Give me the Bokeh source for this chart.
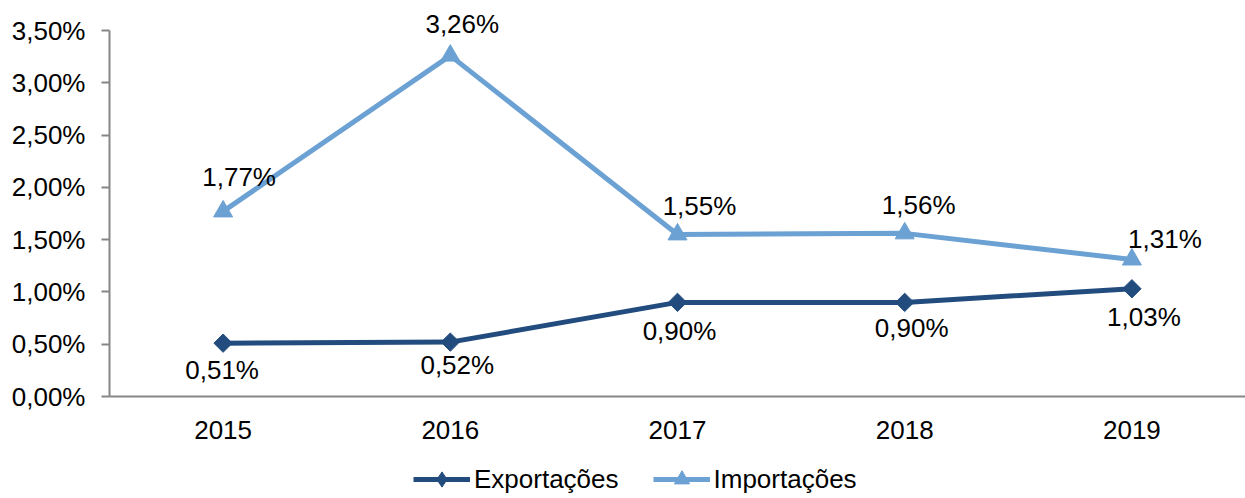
import math
from bokeh.plotting import figure
from bokeh.layouts import column
from bokeh.models import ColumnDataSource, FactorRange, Range1d, CustomJSTickFormatter, LabelSet, Legend, LegendItem, FixedTicker
from bokeh.core.properties import value
from bokeh.embed import file_html
from bokeh.resources import INLINE

years = ["2015", "2016", "2017", "2018", "2019"]
exportacoes = [0.51, 0.52, 0.90, 0.90, 1.03]
importacoes = [1.77, 3.26, 1.55, 1.56, 1.31]
y_ticks = [0.0, 0.5, 1.0, 1.5, 2.0, 2.5, 3.0, 3.5]

# data-label offsets (screen px) as placed in the original chart
exp_label_dx = [-1, 7, 2, 7, 12]
exp_label_dy = [-27, -23, -29, -26, -28]
imp_label_dx = [16, 12, 22, 14, 33]
imp_label_dy = [34, 32, 28, 28, 21]

DARK = "#234C7E"
LIGHT = "#6BA1D3"
FONT = "Liberation Sans"
FS = "26px"

def fmt(v):
    return f"{v:.2f}".replace(".", ",") + "%"

src_e = ColumnDataSource(dict(x=years, y=exportacoes, lab=[fmt(v) for v in exportacoes],
                              dx=exp_label_dx, dy=exp_label_dy))
src_i = ColumnDataSource(dict(x=years, y=importacoes, lab=[fmt(v) for v in importacoes],
                              dx=imp_label_dx, dy=imp_label_dy))

# frame from y=0 to y=396 px; 3.5 at 30 px -> extra above 3.5
y_top = 3.5 + 3.5 * 30 / 366

p = figure(width=1245, height=450, x_range=FactorRange(*years, range_padding=0),
           y_range=Range1d(0, y_top), output_backend="svg", toolbar_location=None,
           min_border_left=109, min_border_right=0, min_border_top=0, min_border_bottom=54)
p.xgrid.visible = False
p.ygrid.visible = False
p.outline_line_color = None

p.line("x", "y", source=src_e, line_color=DARK, line_width=5)
p.scatter("x", "y", source=src_e, marker="square", angle=math.pi / 4, size=13,
          fill_color=DARK, line_color=DARK)
p.line("x", "y", source=src_i, line_color=LIGHT, line_width=5)
p.scatter("x", "y", source=src_i, marker="triangle", size=19, fill_color=LIGHT, line_color=LIGHT)

p.add_layout(LabelSet(x="x", y="y", text="lab", source=src_e, x_offset="dx", y_offset="dy",
                      text_align="center", text_baseline="middle", text_font=value(FONT),
                      text_font_size=value(FS), text_color="black"))
p.add_layout(LabelSet(x="x", y="y", text="lab", source=src_i, x_offset="dx", y_offset="dy",
                      text_align="center", text_baseline="middle", text_font=value(FONT),
                      text_font_size=value(FS), text_color="black"))

ya = p.yaxis[0]
ya.bounds = (0, 3.5)
ya.ticker = FixedTicker(ticks=y_ticks)
ya.formatter = CustomJSTickFormatter(code="return tick.toFixed(2).replace('.', ',') + '%';")
ya.axis_line_color = "#868686"
ya.axis_line_width = 2
ya.major_tick_line_color = "#868686"
ya.major_tick_line_width = 2
ya.major_tick_in = 0
ya.major_tick_out = 8
ya.minor_tick_line_color = None
ya.major_label_standoff = 16
ya.major_label_text_font = FONT
ya.major_label_text_font_size = FS
ya.major_label_text_color = "black"

xa = p.xaxis[0]
xa.axis_line_color = "#868686"
xa.axis_line_width = 2
xa.major_tick_line_color = None
xa.minor_tick_line_color = None
xa.major_label_standoff = 18
xa.major_label_text_font = FONT
xa.major_label_text_font_size = FS
xa.major_label_text_color = "black"

# legend strip below the chart (hidden renderers only feed the legend)
pl = figure(width=1245, height=48, x_range=FactorRange(*years), y_range=Range1d(-10, -9),
            output_backend="svg", toolbar_location=None, x_axis_location=None, y_axis_location=None,
            min_border=0)
pl.xgrid.visible = False
pl.ygrid.visible = False
pl.outline_line_color = None
le = pl.line("x", "y", source=src_e, line_color=DARK, line_width=5, visible=False)
me = pl.scatter("x", "y", source=src_e, marker="diamond", size=18, fill_color=DARK,
                line_color=DARK, visible=False)
li = pl.line("x", "y", source=src_i, line_color=LIGHT, line_width=5, visible=False)
mi = pl.scatter("x", "y", source=src_i, marker="triangle", size=18, fill_color=LIGHT,
                line_color=LIGHT, visible=False)

legend = Legend(items=[LegendItem(label="Exportações", renderers=[le, me]),
                       LegendItem(label="Importações", renderers=[li, mi])],
                orientation="horizontal", location=(304, 0),
                label_text_font=FONT, label_text_font_size=FS, label_text_color="black",
                glyph_width=57, glyph_height=38, spacing=34, label_standoff=4,
                border_line_color=None, background_fill_alpha=0, padding=2, margin=0,
                inactive_fill_alpha=0)
pl.add_layout(legend)

layout = column(p, pl, spacing=0)
open("out.html", "w").write(file_html(layout, INLINE))
